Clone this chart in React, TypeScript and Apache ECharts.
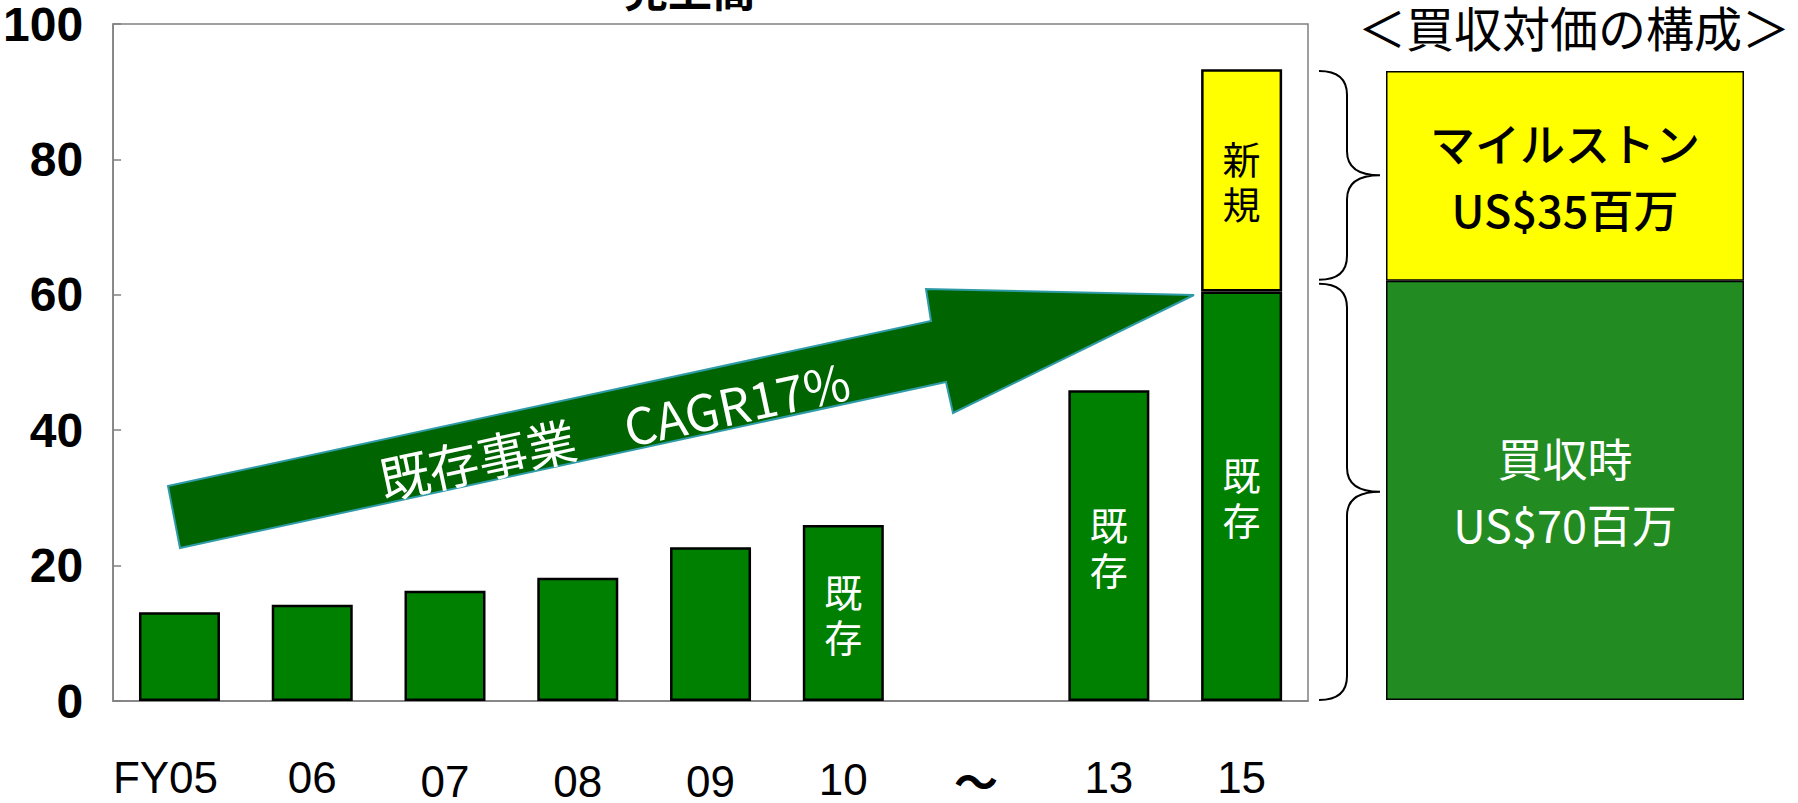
import React, { useEffect, useRef } from 'react';
import * as echarts from 'echarts';

const categories = ['FY05', '06', '07', '08', '09', '10', '～', '13', '15'];
const existingValues: (number | null)[] = [13.1, 14.2, 16.3, 18.2, 22.7, 26.0, null, 45.9, 60.5];
const newValues: (number | null)[] = [null, null, null, null, null, null, null, null, 32.8];
const existingLabelIdx = [5, 7, 8];
const newLabelIdx = [8];
const lowLabelIdx = [2, 3, 4];
const midLabelIdx = [5];
const existingLabel = '既\n存';
const newLabel = '新\n規';

const compCategory = ['買収対価'];
const acquisitionValues = [70];
const milestoneValues = [35];
const acquisitionLabel = '買収時\nUS$70百万';
const milestoneLabel = 'マイルストン\nUS$35百万';

const titleText = '売上高';
const compTitle = '＜買収対価の構成＞';
const arrowText = '既存事業　CAGR17%';

const FONT_NARROW = '"Liberation Sans Narrow", "Liberation Sans", Arial, sans-serif';
const FONT_JP = '"Noto Sans CJK JP", sans-serif';
const AXIS_GRAY = '#808080';

const BOX_LEFT = 1386;
const BOX_WIDTH = 358;
const BOX_TOP = 71;
const BOX_BOTTOM = 700;

function braceD(x0: number, xv: number, xt: number, y0: number, y1: number, r: number): string {
  const ym = (y0 + y1) / 2;
  return [
    `M ${x0} ${y0}`,
    `Q ${xv} ${y0} ${xv} ${y0 + r}`,
    `L ${xv} ${ym - r}`,
    `Q ${xv} ${ym} ${xt} ${ym}`,
    `Q ${xv} ${ym} ${xv} ${ym + r}`,
    `L ${xv} ${y1 - r}`,
    `Q ${xv} ${y1} ${x0} ${y1}`,
  ].join(' ');
}

export default function App() {
  const ref = useRef<HTMLDivElement>(null);

  useEffect(() => {
    if (!ref.current) return;
    const chart = echarts.init(ref.current, undefined, { renderer: 'svg' });

    const base = { fontSize: 44, fontFamily: FONT_NARROW, color: '#000', lineHeight: 36 };
    const labelRich = {
      first: { ...base, padding: [0, 28, 0, 0] },
      low: { ...base, padding: [8, 0, 0, 0] },
      mid: { ...base, padding: [5, 0, 0, 0] },
      tilde: { ...base, fontFamily: FONT_JP, fontWeight: 'bold', padding: [5, 0, 0, 0] },
    };

    const option: any = {
      animation: false,
      backgroundColor: '#ffffff',
      grid: [
        {
          left: 108, right: 490, top: 23, bottom: 97,
          show: true, borderColor: AXIS_GRAY, borderWidth: 1.5, backgroundColor: 'transparent',
        },
        {
          left: BOX_LEFT, width: BOX_WIDTH, top: BOX_TOP, height: BOX_BOTTOM - BOX_TOP,
        },
      ],
      xAxis: [
        {
          type: 'category', gridIndex: 0, data: categories,
          axisLine: { show: true, lineStyle: { color: AXIS_GRAY, width: 1.5 } },
          axisTick: { show: false },
          axisLabel: {
            interval: 0, color: '#000', fontSize: 44, lineHeight: 36, fontFamily: FONT_NARROW, margin: 58,
            formatter: (v: string, i: number) => {
              if (i === 0) return `{first|${v}}`;
              if (v === '～') return `{tilde|${v}}`;
              if (lowLabelIdx.includes(i)) return `{low|${v}}`;
              if (midLabelIdx.includes(i)) return `{mid|${v}}`;
              return v;
            },
            rich: labelRich,
          },
        },
        { type: 'category', gridIndex: 1, data: compCategory, show: false },
      ],
      yAxis: [
        {
          type: 'value', gridIndex: 0, min: 0, max: 100, interval: 20,
          axisLine: { show: true, lineStyle: { color: AXIS_GRAY, width: 1.5 } },
          axisTick: { show: true, inside: true, length: 8, lineStyle: { color: AXIS_GRAY, width: 1.5 } },
          splitLine: { show: false },
          axisLabel: {
            color: '#000', fontSize: 48, fontWeight: 'bold', fontFamily: FONT_NARROW, margin: 30,
            padding: [10, 0, 0, 0],
          },
        },
        { type: 'value', gridIndex: 1, min: 0, max: 105, show: false, splitLine: { show: false } },
      ],
      series: [
        {
          type: 'bar', name: '既存', stack: 'sales', xAxisIndex: 0, yAxisIndex: 0, barWidth: 81,
          data: existingValues.map((v, i) => ({ value: v, label: { show: existingLabelIdx.includes(i) } })),
          itemStyle: { color: '#008000', borderColor: '#000', borderWidth: 2.5 },
          label: {
            position: 'inside', formatter: existingLabel, color: '#fff',
            fontSize: 38, lineHeight: 45, fontFamily: FONT_JP,
          },
        },
        {
          type: 'bar', name: '新規', stack: 'sales', xAxisIndex: 0, yAxisIndex: 0, barWidth: 81,
          data: newValues.map((v, i) => ({ value: v, label: { show: newLabelIdx.includes(i) } })),
          itemStyle: { color: '#FFFF00', borderColor: '#000', borderWidth: 2.5 },
          label: {
            position: 'inside', formatter: newLabel, color: '#000',
            fontSize: 38, lineHeight: 45, fontFamily: FONT_JP,
          },
        },
        {
          type: 'bar', name: '買収時', stack: 'comp', xAxisIndex: 1, yAxisIndex: 1, barWidth: '100%',
          data: acquisitionValues,
          itemStyle: { color: '#228B22', borderColor: '#000', borderWidth: 1.5 },
          label: {
            show: true, position: 'inside', formatter: acquisitionLabel, color: '#fff',
            fontSize: 45, lineHeight: 66, fontFamily: FONT_JP,
          },
        },
        {
          type: 'bar', name: 'マイルストン', stack: 'comp', xAxisIndex: 1, yAxisIndex: 1, barWidth: '100%',
          data: milestoneValues,
          itemStyle: { color: '#FFFF00', borderColor: '#000', borderWidth: 1.5 },
          label: {
            show: true, position: 'inside', formatter: milestoneLabel, color: '#000',
            fontSize: 45, lineHeight: 66, fontFamily: FONT_JP, fontWeight: 500,
          },
        },
      ],
    };

    chart.setOption(option);

    // braces positioned from the composition bars
    const yBottom = chart.convertToPixel({ yAxisIndex: 1 }, 0) as number;
    const yMid = chart.convertToPixel({ yAxisIndex: 1 }, acquisitionValues[0]) as number;
    const yTop = chart.convertToPixel({ yAxisIndex: 1 }, acquisitionValues[0] + milestoneValues[0]) as number;
    const xv = BOX_LEFT - 39;
    const x0 = BOX_LEFT - 67;
    const xt = BOX_LEFT - 6;
    echarts.graphic.registerShape('braceUpper', echarts.graphic.extendPath(braceD(x0, xv, xt, yTop, yMid - 1, 24), {}) as any);
    echarts.graphic.registerShape('braceLower', echarts.graphic.extendPath(braceD(x0, xv, xt, yMid + 3, yBottom, 24), {}) as any);

    chart.setOption({
      graphic: [
        {
          type: 'text', x: 690, y: 10, z: 100,
          style: {
            text: titleText, font: `bold 44px ${FONT_JP}`, fill: '#000',
            textAlign: 'center', textVerticalAlign: 'bottom', align: 'center', verticalAlign: 'bottom',
          },
        },
        {
          type: 'text', x: 1574, y: 26, z: 100,
          style: {
            text: compTitle, font: `48px ${FONT_JP}`, fill: '#000',
            textAlign: 'center', textVerticalAlign: 'middle', align: 'center', verticalAlign: 'middle',
          },
        },
        {
          type: 'polygon', z: 100,
          shape: {
            points: [[168, 486], [931, 321], [926, 289], [1194, 295], [953, 413], [946, 382], [180, 548]],
          },
          style: { fill: '#006400', stroke: '#2F9BA8', lineWidth: 2 },
        },
        {
          type: 'text', x: 614, y: 428, rotation: 0.212, z: 101,
          style: {
            text: arrowText, font: `50px ${FONT_JP}`, fill: '#fff',
            textAlign: 'center', textVerticalAlign: 'middle', align: 'center', verticalAlign: 'middle',
          },
        },
        { type: 'braceUpper', x: 0, y: 0, z: 100, style: { stroke: '#000', fill: 'none', lineWidth: 2 } },
        { type: 'braceLower', x: 0, y: 0, z: 100, style: { stroke: '#000', fill: 'none', lineWidth: 2 } },
      ],
    });

    return () => chart.dispose();
  }, []);

  return (
    <div
      ref={ref}
      style={{ position: 'fixed', left: 0, top: 0, width: 1798, height: 803, background: '#fff' }}
    />
  );
}
